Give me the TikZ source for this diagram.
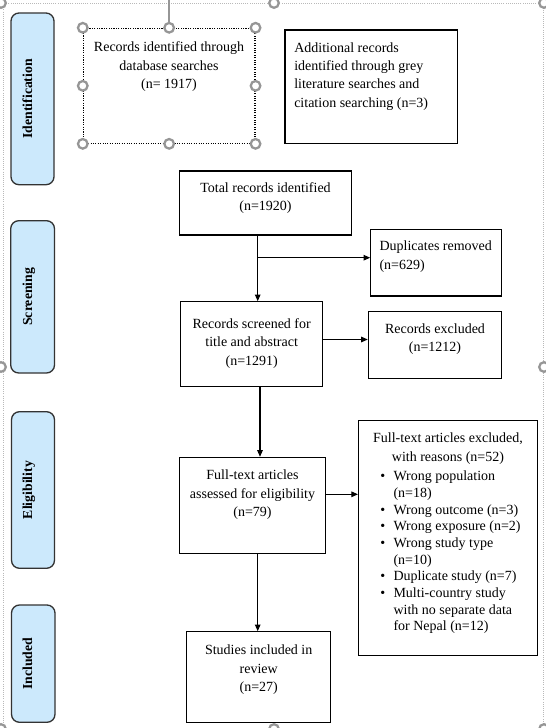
\documentclass[tikz,border=0pt]{standalone}
\usepackage{fontspec}
\setmainfont{Liberation Serif}
\usetikzlibrary{fit,arrows.meta}
\definecolor{stagefill}{RGB}{204,233,252}
\definecolor{handlegray}{RGB}{150,150,150}
\definecolor{framegray}{RGB}{185,185,185}
\newcommand\bl{\makebox[9.8pt][l]{\textbullet}}
\newcommand\ind{\hspace*{9.8pt}}
\begin{document}
\begin{tikzpicture}[x=0.75pt,y=-0.75pt,
 box/.style={draw, line width=0.8pt, inner sep=0pt},
 selbox/.style={draw, densely dotted, line width=0.8pt, inner sep=0pt},
 txt/.style={font=\fontsize{10.5}{13.75}\selectfont, align=center, inner sep=0pt, anchor=north},
 ltxt/.style={txt, align=left, anchor=north west},
 stage/.style={draw=black!80, rounded corners=6pt, fill=stagefill, line width=1pt, inner sep=0pt},
 stagetxt/.style={rotate=90, font=\fontsize{10.3}{12}\selectfont\bfseries, inner sep=0pt, anchor=mid},
 arr/.style={-{Triangle[length=5pt,width=4.2pt]}, line width=0.8pt},
 handle/.style={circle, draw=handlegray, line width=1.7pt, fill=white, minimum size=7.2pt, inner sep=0pt},
 frame/.style={draw=framegray, densely dotted, line width=0.6pt}]

\useasboundingbox (0,0) rectangle (546,728);

% selection frame of the drawing canvas
\draw[frame] (3,3) rectangle (543,728);
\coordinate (rot) at (170,0);

% stage labels
\node[stage, fit={(11,13) (54,184.7)}] (s1) {};
\node[stagetxt] at (29,98.8) {Identification};
\node[stage, fit={(10.7,220.7) (54.5,373)}] (s2) {};
\node[stagetxt] at (29,296.8) {Screening};
\node[stage, fit={(11.5,411.7) (54.5,568.3)}] (s3) {};
\node[stagetxt] at (29,490) {Eligibility};
\node[stage, fit={(11.5,605) (55,722.3)}] (s4) {};
\node[stagetxt] at (29,663.6) {Included};

% identification
\node[selbox, fit={(83.3,28.3) (255,143.3)}] (db) {};
\node[txt] at (169,41.7) {Records identified through\\database searches\\(n= 1917)};
\node[box, fit={(285,30) (457.3,143.3)}] (grey) {};
\node[ltxt] at (294,42.3) {Additional records\\identified through grey\\literature searches and\\citation searching (n=3)};

% screening
\node[box, fit={(179.3,171) (351.7,235)}] (tot) {};
\node[txt] at (265.5,182.3) {Total records identified\\(n=1920)};
\node[box, fit={(370.7,229.3) (501.7,296)}] (dup) {};
\node[ltxt] at (379.3,240.7) {Duplicates removed\\(n=629)};
\node[box, fit={(180.7,301.7) (322.7,386.7)}] (scr) {};
\node[txt] at (251.7,318.3) {Records screened for\\title and abstract\\(n=1291)};
\node[box, fit={(368.3,311.7) (501.7,378.3)}] (exc) {};
\node[txt] at (435,323.3) {Records excluded\\(n=1212)};

% eligibility
\node[box, fit={(179.3,457.3) (325.7,553.3)}] (ft) {};
\node[txt] at (252.5,470) {Full-text articles\\assessed for eligibility\\(n=79)};
\node[box, fit={(358.5,420.7) (537.3,655.7)}] (rs) {};
\node[txt] at (448,432.7) {Full-text articles excluded,\\with reasons (n=52)};
\node[ltxt, font=\fontsize{10.5}{12.5}\selectfont] at (380.2,470.7)
 {\bl Wrong population\\\ind(n=18)\\\bl Wrong outcome (n=3)\\\bl Wrong exposure (n=2)\\\bl Wrong study type\\\ind(n=10)\\\bl Duplicate study (n=7)\\\bl Multi-country study\\\ind with no separate data\\\ind for Nepal (n=12)};

% included
\node[box, fit={(186.7,631.7) (330.7,722.3)}] (inc) {};
\node[txt] at (258.7,645) {Studies included in\\review\\(n=27)};

% connectors
\coordinate (a1) at (257.7,257.7);
\draw[arr] (tot.south -| a1) -- (scr.north -| a1);
\draw[arr] (a1) -- (dup.west |- a1);
\coordinate (a2) at (260,339.5);
\draw[arr] (scr.east |- a2) -- (exc.west |- a2);
\draw[arr] (scr.south -| a2) -- (ft.north -| a2);
\coordinate (a3) at (257.7,494.3);
\draw[arr] (ft.east |- a3) -- (rs.west |- a3);
\draw[arr] (ft.south -| a3) -- (inc.north -| a3);

% selection handles
\draw[handlegray, line width=1pt] (db.north) -- (db.north |- rot);
\foreach \a in {north west,north,north east,west,east,south west,south,south east}
  \node[handle] at (db.\a) {};
\foreach \p in {(1,3),(274,3),(544,3),(1,367),(544,367),(1,729),(274,729),(544,729)}
  \node[handle] at \p {};
\end{tikzpicture}
\end{document}
